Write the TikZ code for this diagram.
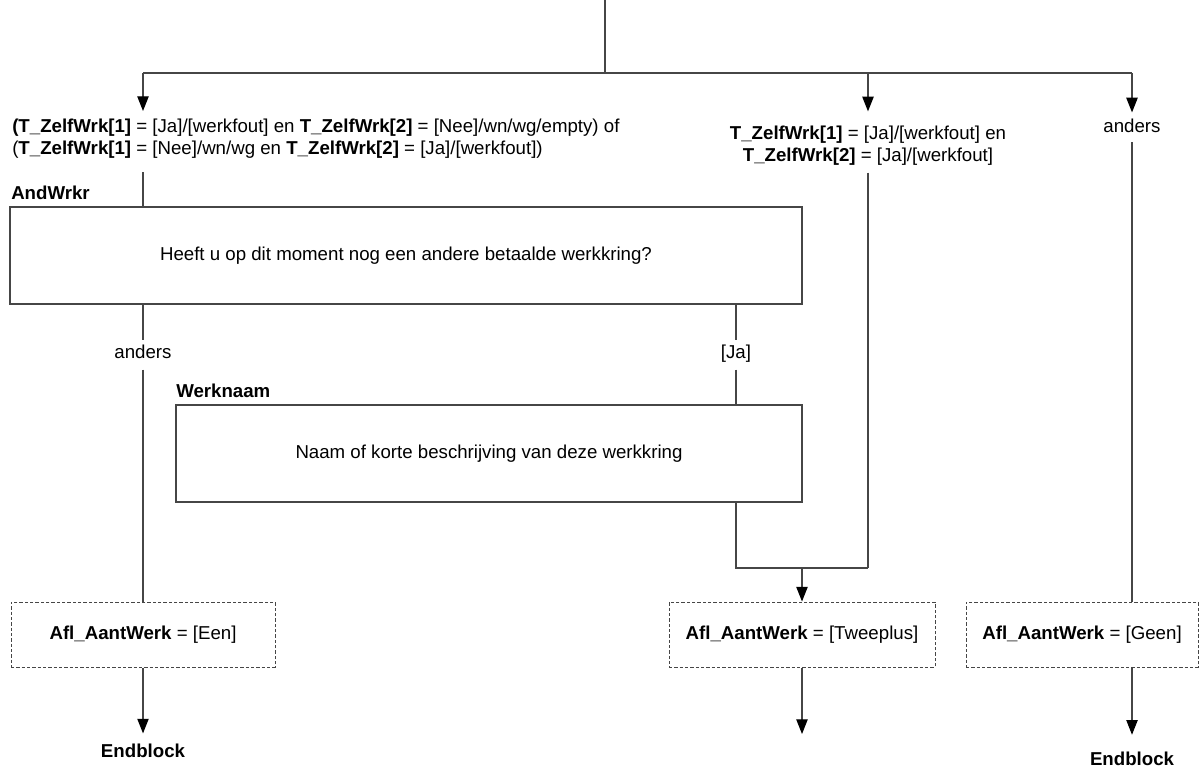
\documentclass[tikz,border=0pt]{standalone}
\usepackage{fontspec}
\setmainfont{Liberation Sans}
\usetikzlibrary{arrows.meta}
\definecolor{lc}{RGB}{70,70,70}
\begin{document}
\begin{tikzpicture}[x=0.75pt,y=-0.75pt,
  font=\fontsize{14}{16.5}\selectfont,
  line/.style={draw=lc, line width=0.9pt},
  arr/.style={line, -{Triangle[width=8.5pt,length=11pt,color=black]}},
  qbox/.style={draw=lc, line width=0.9pt, rectangle, inner sep=0pt, minimum height=72.75pt},
  dbox/.style={draw=lc, line width=0.75pt, dash pattern=on 2.5pt off 1.5pt, rectangle, inner sep=0pt, minimum height=48.75pt},
  txt/.style={inner sep=0pt, text height=10pt, text depth=3pt},
  lbl/.style={inner sep=0pt, font=\fontsize{14}{16.5}\selectfont\bfseries}]
\useasboundingbox (0,0) rectangle (1201,769);
% coordinates
\coordinate (top) at (605,0);
\coordinate (split) at (605,73);
\coordinate (bl) at (143,73);
\coordinate (bm) at (868,73);
\coordinate (br) at (1132,73);
% condition texts
\node[inner sep=0pt, anchor=north west, align=left] (condL) at (12,119)
  {\textbf{(T\_ZelfWrk[1]} = [Ja]/[werkfout] en \textbf{T\_ZelfWrk[2]} = [Nee]/wn/wg/empty) of\\
   (\textbf{T\_ZelfWrk[1]} = [Nee]/wn/wg en \textbf{T\_ZelfWrk[2]} = [Ja]/[werkfout])};
\node[inner sep=0pt, align=center] (condM) at (868,146)
  {\textbf{T\_ZelfWrk[1]} = [Ja]/[werkfout] en\\ \textbf{T\_ZelfWrk[2]} = [Ja]/[werkfout]};
\node[txt] (andR) at (1132,128) {anders};
% AndWrkr
\node[lbl, anchor=west] (andwrkrL) at (11,193) {AndWrkr};
\node[qbox, minimum width=594pt] (andwrkr) at (406,255.5) {Heeft u op dit moment nog een andere betaalde werkkring?};
\node[txt] (andL) at (143,354) {anders};
\node[txt] (ja) at (736,354) {[Ja]};
% Werknaam
\node[lbl, anchor=west] (werkL) at (176,391) {Werknaam};
\node[qbox, minimum width=469.5pt] (werk) at (489,453.5) {Naam of korte beschrijving van deze werkkring};
\coordinate (j1) at (736,568);
\coordinate (j2) at (868,568);
\coordinate (j3) at (802,568);
% result boxes
\node[dbox, minimum width=198pt] (een) at (143,634.5) {\textbf{Afl\_AantWerk} = [Een]};
\node[dbox, minimum width=199.5pt] (twee) at (802,634.5) {\textbf{Afl\_AantWerk} = [Tweeplus]};
\node[dbox, minimum width=174pt] (geen) at (1082,634.5) {\textbf{Afl\_AantWerk} = [Geen]};
\node[lbl, text height=10pt, text depth=3pt] (endL) at (143,753) {Endblock};
\node[lbl, text height=10pt, text depth=3pt] (endR) at (1132,761) {Endblock};
\coordinate (endM) at (802,734);
% connectors
\draw[line] (top) -- (split);
\draw[line] (bl) -- (br);
\draw[arr, shorten >=6pt] (bl) -- (bl |- condL.north);
\draw[arr, shorten >=11pt] (bm) -- (condM.north);
\draw[arr, shorten >=5pt] (br) -- (andR.north);
\draw[line, shorten <=10pt] (bl |- condL.south) -- (bl |- andwrkr.north);
\draw[line, shorten >=4pt] (bl |- andwrkr.south) -- (andL.north);
\draw[line, shorten <=5pt] (andL.south) -- (een.north -| andL.south);
\draw[line, shorten >=4pt] (ja |- andwrkr.south) -- (ja.north);
\draw[line, shorten <=5pt] (ja.south) -- (ja.south |- werk.north);
\draw[line] (ja |- werk.south) -- (j1) -- (j2);
\draw[line, shorten <=5pt] (condM.south) -- (j2);
\draw[arr] (j3) -- (j3 |- twee.north);
\draw[arr, shorten >=8pt] (een.south -| endL) -- (endL.north);
\draw[arr] (twee.south -| endM) -- (endM);
\draw[line, shorten <=4pt] (andR.south) -- (andR.south |- geen.north);
\draw[arr, shorten >=13pt] (geen.south -| endR) -- (endR.north);
\end{tikzpicture}
\end{document}
